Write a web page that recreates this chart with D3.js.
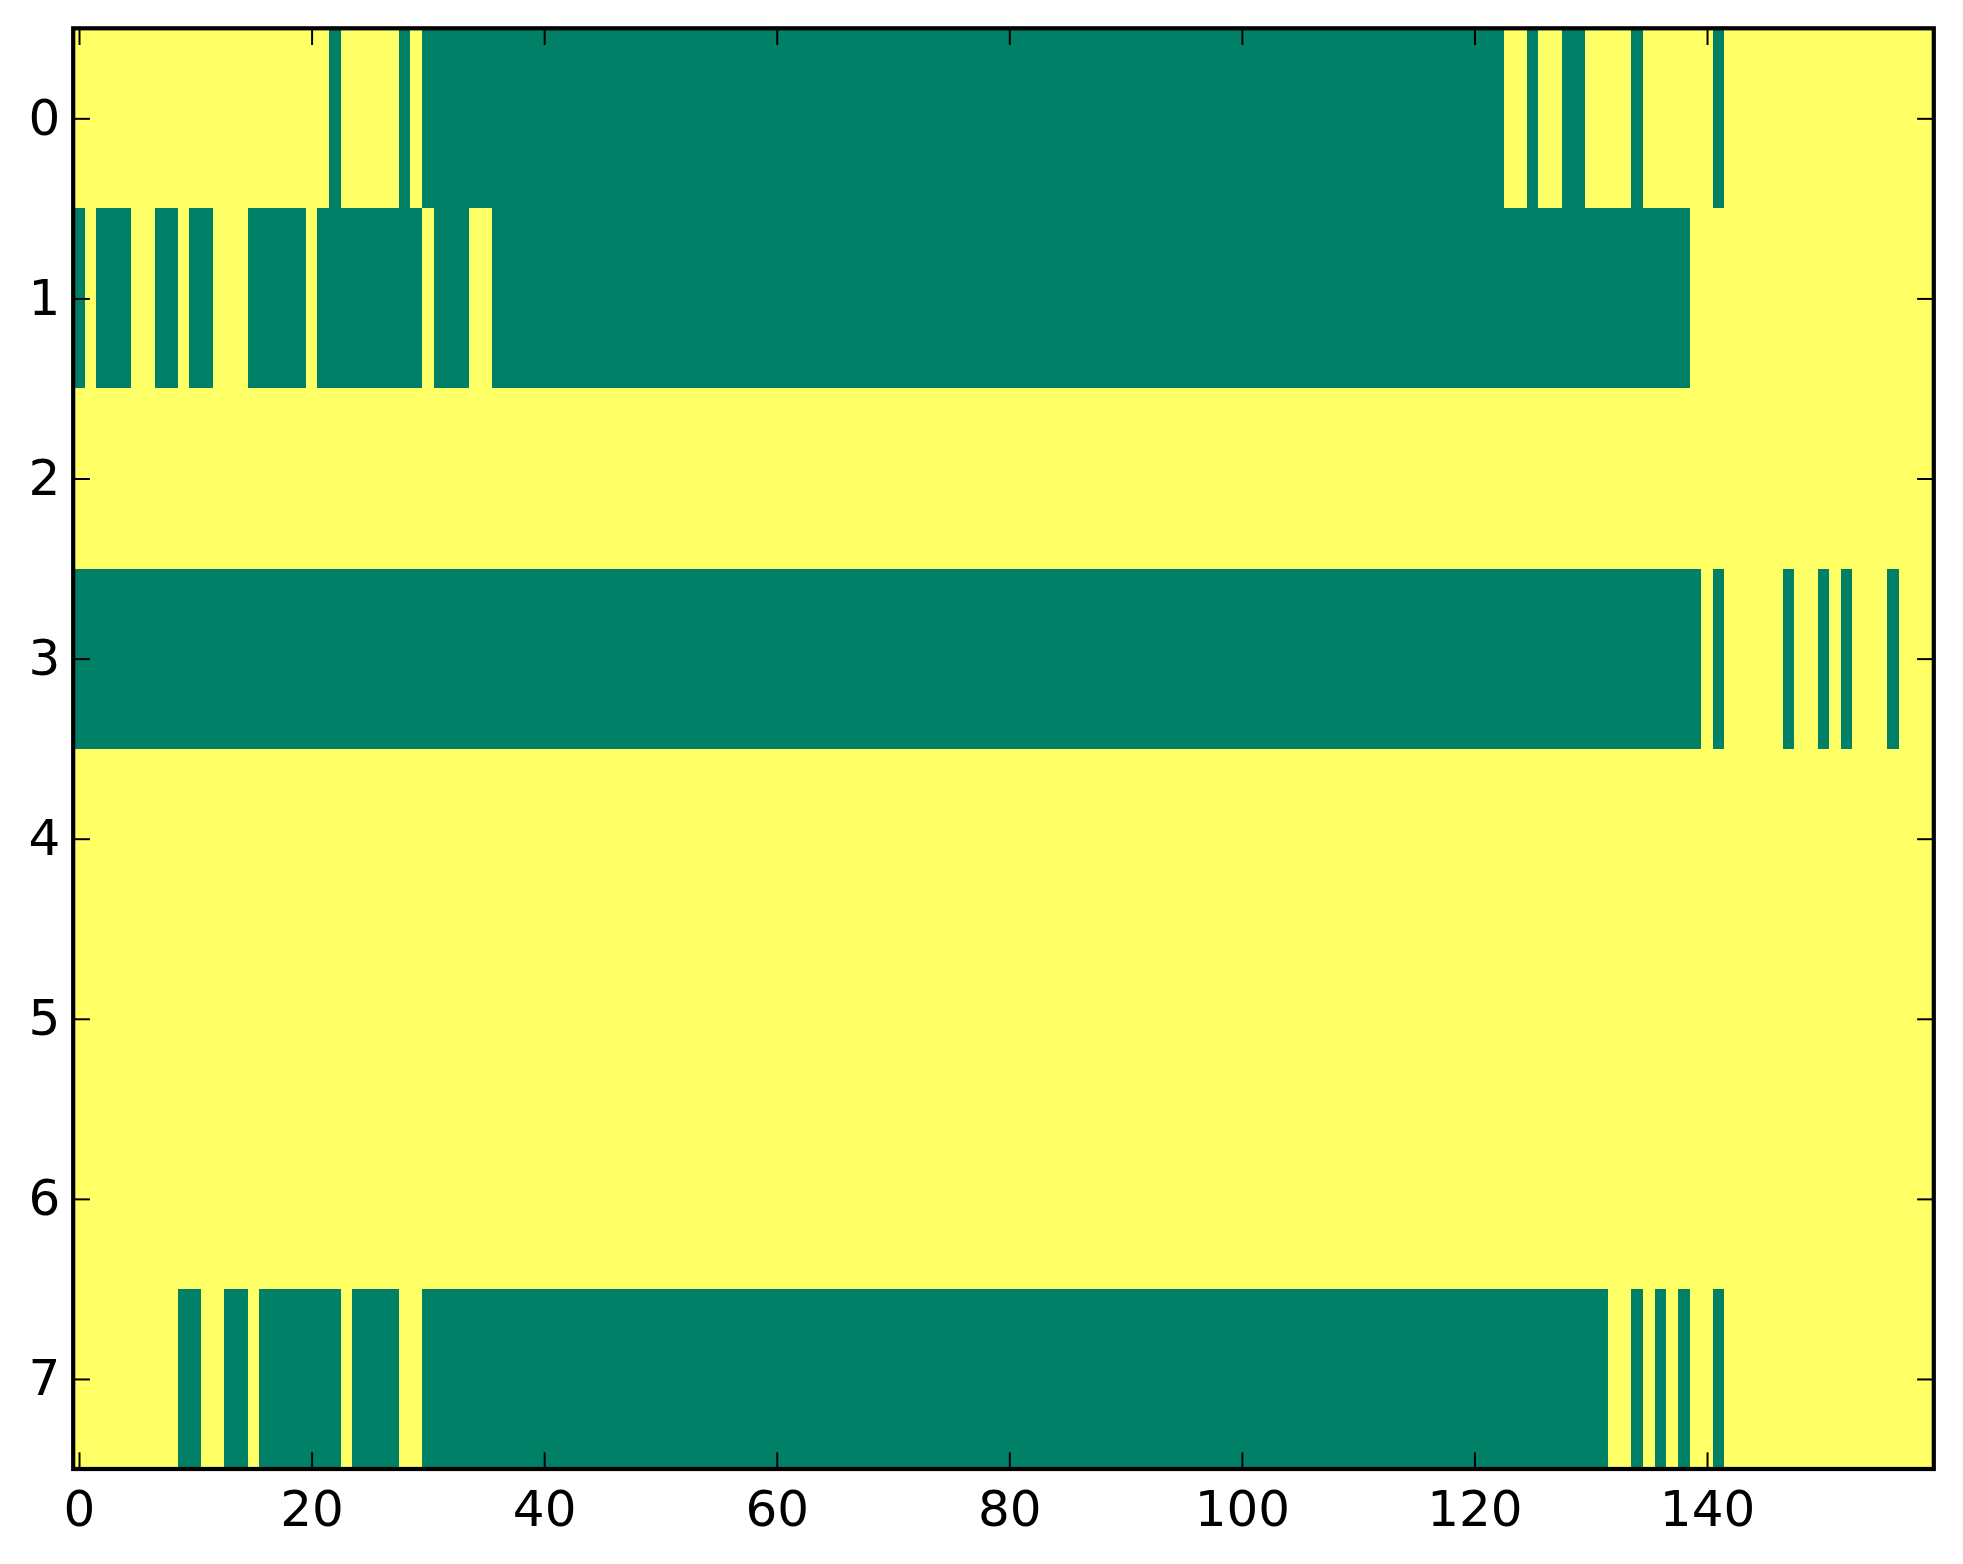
<!DOCTYPE html>
<html>
<head>
<meta charset="utf-8">
<script src="https://cdn.jsdelivr.net/npm/d3@7"></script>
<style>
  body { margin: 0; background: #ffffff; }
  svg { display: block; }
  .tick text { font-family: "DejaVu Sans", sans-serif; font-size: 50px; fill: #000; }
</style>
</head>
<body>
<svg id="chart" width="1963" height="1564"></svg>
<script>
// each row of the image, 160 cells, 1 = high (yellow), 0 = low (green)
const row0 = ["1111111111","1111111111","1101111101","0000000000","0000000000","0000000000","0000000000","0000000000",
              "0000000000","0000000000","0000000000","0000000000","0001101100","1111011111","1011111111","1111111111"].join("");
const row1 = ["0100011001","0011100000","1000000000","1000110000","0000000000","0000000000","0000000000","0000000000",
              "0000000000","0000000000","0000000000","0000000000","0000000000","0000000001","1111111111","1111111111"].join("");
const row2 = ["1111111111","1111111111","1111111111","1111111111","1111111111","1111111111","1111111111","1111111111",
              "1111111111","1111111111","1111111111","1111111111","1111111111","1111111111","1111111111","1111111111"].join("");
const row3 = ["0000000000","0000000000","0000000000","0000000000","0000000000","0000000000","0000000000","0000000000",
              "0000000000","0000000000","0000000000","0000000000","0000000000","0000000000","1011111011","0101110111"].join("");
const row4 = ["1111111111","1111111111","1111111111","1111111111","1111111111","1111111111","1111111111","1111111111",
              "1111111111","1111111111","1111111111","1111111111","1111111111","1111111111","1111111111","1111111111"].join("");
const row5 = ["1111111111","1111111111","1111111111","1111111111","1111111111","1111111111","1111111111","1111111111",
              "1111111111","1111111111","1111111111","1111111111","1111111111","1111111111","1111111111","1111111111"].join("");
const row6 = ["1111111111","1111111111","1111111111","1111111111","1111111111","1111111111","1111111111","1111111111",
              "1111111111","1111111111","1111111111","1111111111","1111111111","1111111111","1111111111","1111111111"].join("");
const row7 = ["1111111110","0110010000","0001000011","0000000000","0000000000","0000000000","0000000000","0000000000",
              "0000000000","0000000000","0000000000","0000000000","0000000000","0011010101","1011111111","1111111111"].join("");

const rows = [row0, row1, row2, row3, row4, row5, row6, row7];
const xTicks = [0, 20, 40, 60, 80, 100, 120, 140];
const yTicks = [0, 1, 2, 3, 4, 5, 6, 7];

var svg = d3.select("#chart");

var plotLeft = 73.2, plotRight = 1933.8, plotTop = 28.3, plotBottom = 1469;
var tickLen = 16.7;

var x = d3.scaleLinear().domain([-0.5, rows[0].length - 0.5]).range([plotLeft, plotRight]);
var y = d3.scaleLinear().domain([-0.5, rows.length - 0.5]).range([plotTop, plotBottom]);

// matplotlib "summer" colormap
var color = d3.scaleLinear().domain([0, 1]).range(["#008066", "#ffff66"]);

var cells = [];
rows.forEach(function(r, i) {
    r.split("").forEach(function(v, j) {
        cells.push({ row: i, col: j, value: +v });
    });
});

svg.append("g")
    .selectAll("rect")
    .data(cells)
    .enter()
    .append("rect")
    .attr("x", d => x(d.col - 0.5))
    .attr("y", d => y(d.row - 0.5))
    .attr("width", d => x(d.col + 0.5) - x(d.col - 0.5) + 0.6)
    .attr("height", d => y(d.row + 0.5) - y(d.row - 0.5) + 0.6)
    .attr("fill", d => color(d.value))
    .attr("shape-rendering", "crispEdges");

// ticks point inward on all four sides
var axisB = svg.append("g").attr("transform", "translate(0," + plotBottom + ")")
    .call(d3.axisBottom(x).tickValues(xTicks).tickSize(-tickLen).tickPadding(21.5));
var axisT = svg.append("g").attr("transform", "translate(0," + plotTop + ")")
    .call(d3.axisTop(x).tickValues(xTicks).tickSize(-tickLen).tickFormat(""));
var axisL = svg.append("g").attr("transform", "translate(" + plotLeft + ",0)")
    .call(d3.axisLeft(y).tickValues(yTicks).tickSize(-tickLen).tickPadding(13));
var axisR = svg.append("g").attr("transform", "translate(" + plotRight + ",0)")
    .call(d3.axisRight(y).tickValues(yTicks).tickSize(-tickLen).tickFormat(""));

[axisB, axisT, axisL, axisR].forEach(function(a) {
    a.select(".domain").remove();
    a.selectAll(".tick line").attr("stroke", "#000").attr("stroke-width", 2);
});

svg.append("rect")
    .attr("x", plotLeft)
    .attr("y", plotTop)
    .attr("width", plotRight - plotLeft)
    .attr("height", plotBottom - plotTop)
    .attr("fill", "none")
    .attr("stroke", "#000")
    .attr("stroke-width", 4.2);
</script>
</body>
</html>
